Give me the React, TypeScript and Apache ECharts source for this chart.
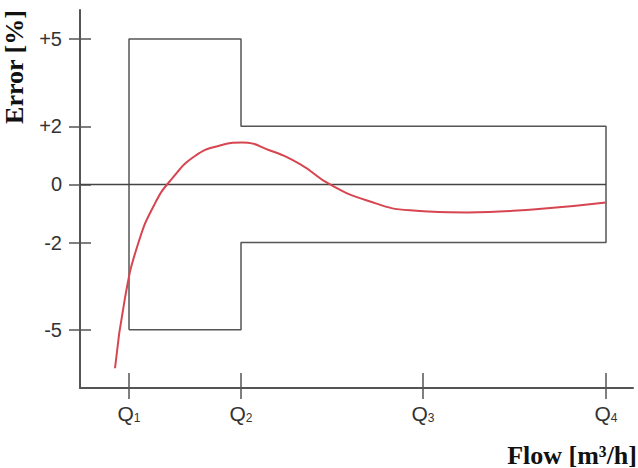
import React, { useEffect, useRef } from "react";
import * as echarts from "echarts";

// Flow positions of the characteristic flow rates (axis units)
const qPositions = [49, 161, 343, 526];
const qSubscripts = ["1", "2", "3", "4"];

// Error tick values shown on the y axis
const errorTicks = [-5, -2, 0, 2, 5];

// Maximum permissible error: lower zone (Q1..Q2) and upper zone (Q2..Q4)
const lowerZoneLimit = 5;
const upperZoneLimit = 2;

// Measured error curve
const curveFlow = [35, 45, 58, 75, 92, 115, 140, 162, 190, 220, 250, 287, 330, 387, 453, 526];
const curveError = [-6.32, -3.9, -2.05, -0.65, 0.2, 0.98, 1.34, 1.44, 1.17, 0.7, 0, -0.55, -0.89, -0.96, -0.86, -0.62];

export default function App() {
  const ref = useRef<HTMLDivElement>(null);
  useEffect(() => {
    if (!ref.current) return;
    const chart = echarts.init(ref.current, null, { renderer: "svg" });
    const [q1, q2, , q4] = qPositions;
    const envelope = [
      [q1, -lowerZoneLimit],
      [q1, lowerZoneLimit],
      [q2, lowerZoneLimit],
      [q2, upperZoneLimit],
      [q4, upperZoneLimit],
      [q4, -upperZoneLimit],
      [q2, -upperZoneLimit],
      [q2, -lowerZoneLimit],
      [q1, -lowerZoneLimit],
    ];
    const zeroLine = [
      [0, 0],
      [q4, 0],
    ];
    const curve = curveFlow.map((x, i) => [x, curveError[i]]);
    const axisColor = "#555";
    const sans = "Liberation Sans, Arial, sans-serif";
    chart.setOption({
      animation: false,
      backgroundColor: "#fff",
      grid: { left: 80, right: 5, top: 10, bottom: 80 },
      xAxis: [
        {
          type: "value",
          min: 0,
          max: 553,
          splitLine: { show: false },
          axisLine: { show: true, onZero: false, lineStyle: { color: axisColor, width: 2 } },
          axisTick: {
            show: true,
            customValues: qPositions,
            length: 11,
            lineStyle: { color: axisColor, width: 1.5 },
          },
          axisLabel: {
            customValues: qPositions,
            margin: 15,
            color: "#333",
            formatter: (v: number) => {
              const i = qPositions.indexOf(v);
              return "{q|Q}{s|" + qSubscripts[i] + "}";
            },
            rich: {
              q: { fontFamily: sans, fontSize: 21, color: "#333" },
              s: { fontFamily: sans, fontSize: 12, color: "#333", padding: [9, 0, 0, 0] },
            },
          },
        },
        {
          type: "value",
          min: 0,
          max: 553,
          position: "bottom",
          offset: 0,
          splitLine: { show: false },
          axisLine: { show: false, onZero: false },
          axisTick: {
            show: true,
            inside: true,
            customValues: qPositions,
            length: 15,
            lineStyle: { color: axisColor, width: 1.5 },
          },
          axisLabel: { show: false },
        },
      ],
      yAxis: [
        {
          type: "value",
          min: -7,
          max: 6,
          splitLine: { show: false },
          axisLine: { show: true, onZero: false, lineStyle: { color: axisColor, width: 2 } },
          axisTick: {
            show: true,
            customValues: errorTicks,
            length: 11,
            lineStyle: { color: axisColor, width: 1.5 },
          },
          axisLabel: {
            customValues: errorTicks,
            margin: 18,
            color: "#333",
            fontFamily: sans,
            fontSize: 20,
            padding: [10, 0, 0, 0],
            formatter: (v: number) => (v > 0 ? "+" + v : String(v)),
          },
        },
        {
          type: "value",
          min: -7,
          max: 6,
          position: "left",
          offset: 0,
          splitLine: { show: false },
          axisLine: { show: false, onZero: false },
          axisTick: {
            show: true,
            inside: true,
            customValues: errorTicks,
            length: 11,
            lineStyle: { color: axisColor, width: 1.5 },
          },
          axisLabel: { show: false },
        },
      ],
      series: [
        {
          type: "line",
          data: envelope,
          symbol: "none",
          lineStyle: { color: "#555", width: 1.5 },
          z: 2,
        },
        {
          type: "line",
          data: zeroLine,
          symbol: "none",
          lineStyle: { color: "#444", width: 1.5 },
          z: 2,
        },
        {
          type: "line",
          data: curve,
          symbol: "none",
          smooth: 0.5,
          lineStyle: { color: "#d64550", width: 2 },
          z: 3,
        },
      ],
      graphic: [
        {
          type: "text",
          x: 14,
          y: 67,
          rotation: Math.PI / 2,
          style: {
            text: "Error [%]",
            fontFamily: "Liberation Serif, Times New Roman, serif",
            fontWeight: "bold",
            fontSize: 26,
            fill: "#111",
            align: "center",
            verticalAlign: "middle",
          },
        },
        {
          type: "text",
          x: 637,
          y: 455,
          style: {
            text: "Flow [m³/h]",
            fontFamily: "Liberation Serif, Times New Roman, serif",
            fontWeight: "bold",
            fontSize: 26,
            fill: "#111",
            align: "right",
            verticalAlign: "middle",
          },
        },
      ],
    });
    return () => chart.dispose();
  }, []);
  return <div ref={ref} style={{ width: 638, height: 468, position: "absolute", left: 0, top: 0 }} />;
}
